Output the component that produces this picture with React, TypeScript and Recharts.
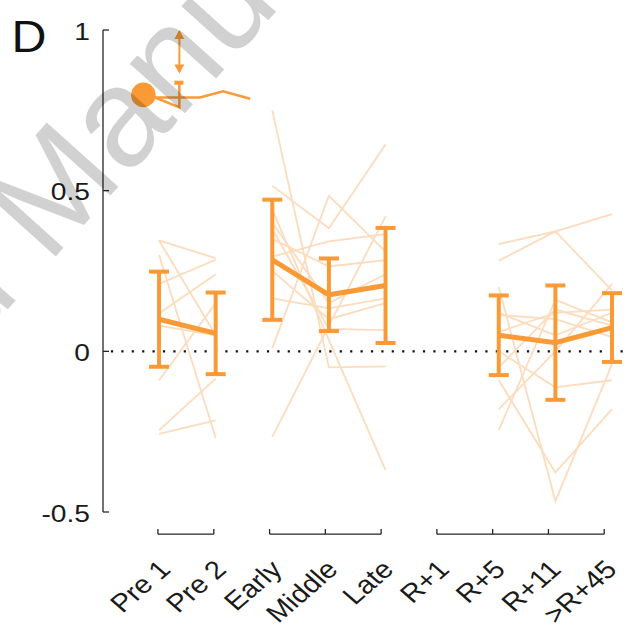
import React from "react";
import {
  ComposedChart,
  Line,
  XAxis,
  YAxis,
  ReferenceLine,
  ReferenceDot,
  ErrorBar,
  Scatter,
} from "recharts";

const W = 631;
const H = 627;
const ORANGE = "#F99A36";
const FAINT = "#FCDCBD";
const AXIS = "#262626";
const FONT = "'Liberation Sans', Arial, Helvetica, sans-serif";

// ---- categories / ticks ----
const categories = ["Pre 1", "Pre 2", "Early", "Middle", "Late", "R+1", "R+5", "R+11", ">R+45"];
const tickPos = [-0.02, 0.967, 1.952, 2.937, 3.922, 4.907, 5.892, 6.877, 7.862];
const bracketGroups = [[0, 1], [2, 3, 4], [5, 6, 7, 8]];
const yTicks = [-0.5, 0, 0.5, 1];
const yTickLabels = ["-0.5", "0", "0.5", "1"];

// ---- x positions of the data ----
const preX = [0, 1];
const taskX = [2, 3, 4];
const recX = [6, 7, 8];

// ---- group means and error ----
const preMean = [0.1, 0.056];
const preErr = [0.148, 0.127];
const taskMean = [0.285, 0.176, 0.205];
const taskErr = [0.187, 0.113, 0.179];
const recMean = [0.05, 0.027, 0.074];
const recErr = [0.124, 0.178, 0.107];

// ---- individual subjects ----
const preSubjects = [
  [0.345, 0.29],
  [0.345, 0.05],
  [0.3, -0.27],
  [0.21, 0.285],
  [0.118, 0.24],
  [0.08, 0.05],
  [-0.09, 0.15],
  [-0.245, -0.085],
  [-0.257, -0.215],
];
const taskSubjects = [
  [0.75, -0.05, -0.047],
  [0.515, 0.383, 0.644],
  [0.01, 0.484, 0.31],
  [-0.266, 0.08, 0.42],
  [0.44, 0.035, -0.37],
  [0.165, 0.134, 0.165],
  [0.295, 0.342, 0.365],
  [0.35, 0.264, 0.284],
  [0.38, 0.07, 0.066],
  [0.4, 0.15, 0.24],
  [0.25, 0.1, 0.15],
];
const recSubjects = [
  [0.334, 0.373, 0.427],
  [0.282, 0.373, 0.19],
  [0.2, -0.466, -0.04],
  [-0.09, -0.377, -0.18],
  [-0.18, 0.0, 0.21],
  [-0.245, 0.16, 0.09],
  [0.113, 0.1, 0.044],
  [0.0, -0.112, -0.09],
  [0.06, 0.12, 0.13],
  [0.12, 0.05, 0.12],
  [-0.05, 0.13, 0.08],
];

// ---- schematic inset (data units) ----
const insetDot = { x: -0.277, y: 0.798 };
const insetTraceX = [-0.07, 0.724, 1.13, 1.61];
const insetTraceY = [0.79, 0.79, 0.809, 0.786];
const insetDropX = [-0.07, 0.359, 0.359];
const insetDropY = [0.79, 0.759, 0.834];
const insetCap = { x1: 0.27, x2: 0.43, y: 0.836 };
const arrowX = 0.359;
const arrowTop = 0.995;
const arrowBottom = 0.87;
const arrowHeads = [
  { x: 0.359, y: 1.0, dir: "up" },
  { x: 0.359, y: 0.865, dir: "down" },
];

// ---- bracket levels (below axis) ----
const bracketY = -0.569;
const bracketTickTop = -0.553;

const pts = (xs: number[], ys: number[], errs?: number[]) =>
  xs.map((x, i) => ({ x, y: ys[i], err: errs ? errs[i] : 0 }));

const YTick = (props: any) => {
  const { x, y, index } = props;
  return (
    <g>
      <line x1={x} x2={x + 6} y1={y} y2={y} stroke={AXIS} strokeWidth={1.3} />
      <text
        transform={`translate(${x - 13},${y + 9.5}) scale(1.15,1)`}
        textAnchor="end"
        fontSize={24.5}
        fontFamily={FONT}
        fill="#1a1a1a"
      >
        {yTickLabels[index]}
      </text>
    </g>
  );
};

const XTick = (props: any) => {
  const { x, y, index } = props;
  return (
    <text
      transform={`translate(${x + 14},${y + 59}) scale(1.15,1) rotate(-45)`}
      textAnchor="end"
      fontSize={25.5}
      fontFamily={FONT}
      fill="#1a1a1a"
    >
      {categories[index]}
    </text>
  );
};

const ArrowHead = (props: any) => {
  const { cx, cy, payload } = props;
  const s = payload && payload.dir === "up" ? 1 : -1;
  return (
    <polygon
      points={`${cx},${cy} ${cx - 5},${cy + s * 9} ${cx + 5},${cy + s * 9}`}
      fill={ORANGE}
    />
  );
};

export default function App() {
  return (
    <div style={{ position: "absolute", left: 0, top: 0, width: W, height: H, background: "#fff" }}>
      <div style={{ position: "absolute", left: 0, top: 0 }}>
        <ComposedChart width={W} height={H} margin={{ top: 30, right: 2, bottom: 0, left: 0 }}>
          <XAxis
            type="number"
            dataKey="x"
            domain={[-0.99, 8.3]}
            allowDataOverflow
            ticks={tickPos}
            interval={0}
            axisLine={false}
            tickLine={false}
            tickSize={0}
            tickMargin={0}
            height={115}
            tick={<XTick />}
          />
          <YAxis
            type="number"
            domain={[-0.5, 1]}
            allowDataOverflow
            ticks={yTicks}
            interval={0}
            width={103}
            axisLine={{ stroke: AXIS, strokeWidth: 1.3 }}
            tickLine={false}
            tickSize={0}
            tickMargin={0}
            tick={<YTick />}
          />

          <ReferenceLine
            segment={[{ x: -0.85, y: 0 }, { x: 8.25, y: 0 }]}
            stroke="#111"
            strokeWidth={2.2}
            strokeDasharray="2.2 8.2"
            ifOverflow="visible"
          />

          {bracketGroups.map((g, gi) => (
            <ReferenceLine
              key={`bh${gi}`}
              segment={[
                { x: tickPos[g[0]], y: bracketY },
                { x: tickPos[g[g.length - 1]], y: bracketY },
              ]}
              stroke={AXIS}
              strokeWidth={1.3}
              ifOverflow="visible"
            />
          ))}
          {tickPos.map((t, i) => (
            <ReferenceLine
              key={`bt${i}`}
              segment={[{ x: t, y: bracketY }, { x: t, y: bracketTickTop }]}
              stroke={AXIS}
              strokeWidth={1.3}
              ifOverflow="visible"
            />
          ))}

          {preSubjects.map((s, i) => (
            <Line key={`ps${i}`} data={pts(preX, s)} dataKey="y" type="linear" stroke={FAINT} strokeWidth={1.8} dot={false} activeDot={false} isAnimationActive={false} />
          ))}
          {taskSubjects.map((s, i) => (
            <Line key={`ts${i}`} data={pts(taskX, s)} dataKey="y" type="linear" stroke={FAINT} strokeWidth={1.8} dot={false} activeDot={false} isAnimationActive={false} />
          ))}
          {recSubjects.map((s, i) => (
            <Line key={`rs${i}`} data={pts(recX, s)} dataKey="y" type="linear" stroke={FAINT} strokeWidth={1.8} dot={false} activeDot={false} isAnimationActive={false} />
          ))}

          <Line data={pts(preX, preMean, preErr)} dataKey="y" type="linear" stroke={ORANGE} strokeWidth={5} dot={false} activeDot={false} isAnimationActive={false}>
            <ErrorBar dataKey="err" direction="y" width={10} strokeWidth={4} stroke={ORANGE} />
          </Line>
          <Line data={pts(taskX, taskMean, taskErr)} dataKey="y" type="linear" stroke={ORANGE} strokeWidth={5} dot={false} activeDot={false} isAnimationActive={false}>
            <ErrorBar dataKey="err" direction="y" width={10} strokeWidth={4} stroke={ORANGE} />
          </Line>
          <Line data={pts(recX, recMean, recErr)} dataKey="y" type="linear" stroke={ORANGE} strokeWidth={5} dot={false} activeDot={false} isAnimationActive={false}>
            <ErrorBar dataKey="err" direction="y" width={10} strokeWidth={4} stroke={ORANGE} />
          </Line>

          {/* schematic inset */}
          <Line data={pts(insetTraceX, insetTraceY)} dataKey="y" type="linear" stroke={ORANGE} strokeWidth={2.5} dot={false} activeDot={false} isAnimationActive={false} />
          <Line data={pts(insetDropX, insetDropY)} dataKey="y" type="linear" stroke={ORANGE} strokeWidth={2.5} dot={false} activeDot={false} isAnimationActive={false} />
          <ReferenceLine
            segment={[{ x: insetCap.x1, y: insetCap.y }, { x: insetCap.x2, y: insetCap.y }]}
            stroke={ORANGE}
            strokeWidth={4}
            ifOverflow="visible"
          />
          <ReferenceLine
            segment={[{ x: arrowX, y: arrowBottom }, { x: arrowX, y: arrowTop }]}
            stroke={ORANGE}
            strokeWidth={2}
            ifOverflow="visible"
          />
          <Scatter data={arrowHeads} dataKey="y" shape={<ArrowHead />} isAnimationActive={false} />
          <ReferenceDot x={insetDot.x} y={insetDot.y} r={12.3} fill={ORANGE} stroke="none" ifOverflow="visible" />
        </ComposedChart>
      </div>
      <svg
        width={W}
        height={H}
        style={{ position: "absolute", left: 0, top: 0, pointerEvents: "none" }}
      >
        <text
          transform="translate(11.5,51.7) scale(1.1,1)"
          fontSize={44}
          fontFamily={FONT}
          fill="#111"
        >
          D
        </text>
        <g transform="translate(48,265) rotate(-48)" fill="#000" fillOpacity={0.18} fontFamily={FONT} fontSize={140}>
          <text x={0} y={0}>Manuscript</text>
          <text x={-39} y={0} textAnchor="end">Accepted</text>
        </g>
      </svg>
    </div>
  );
}
